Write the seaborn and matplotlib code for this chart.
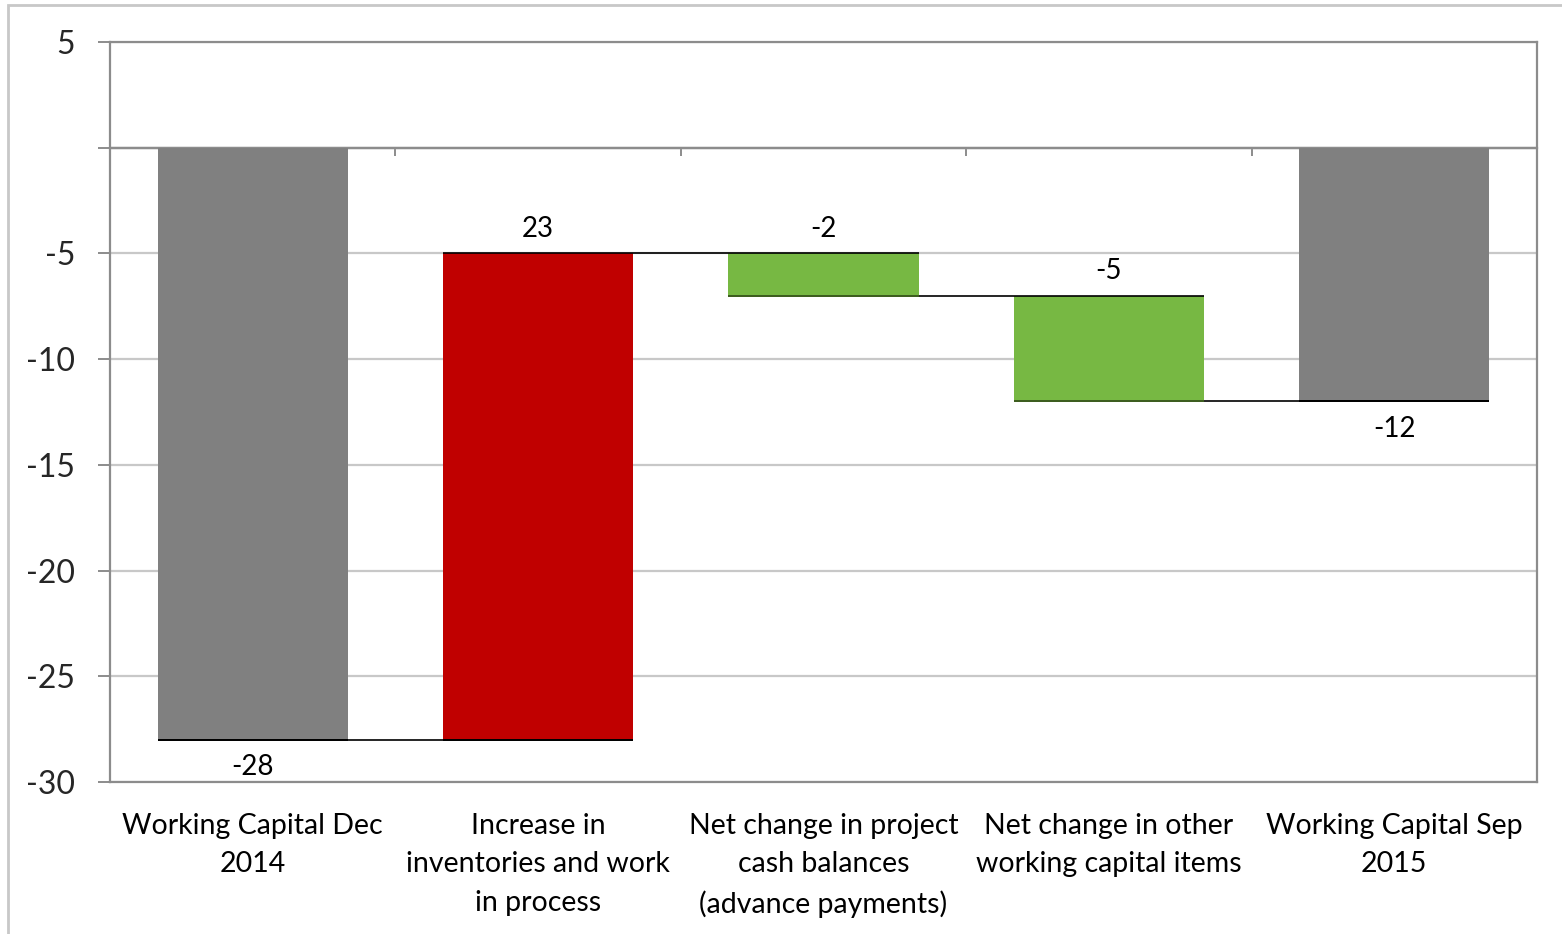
import matplotlib
matplotlib.use("Agg")
import matplotlib.pyplot as plt
import matplotlib.patches as mpatches
import seaborn as sns
import pandas as pd
import numpy as np

# ---- data ----
categories = [
    "Working Capital Dec\n2014",
    "Increase in\ninventories and work\nin process",
    "Net change in project\ncash balances\n(advance payments)",
    "Net change in other\nworking capital items",
    "Working Capital Sep\n2015",
]
bar_start = [0, -28, -5, -7, 0]
bar_end = [-28, -5, -7, -12, -12]
value_labels = ["-28", "23", "-2", "-5", "-12"]
label_side = ["below", "above", "above", "above", "below"]
bar_colors = ["#808080", "#C00000", "#77B843", "#77B843", "#808080"]
yticks = [5, 0, -5, -10, -15, -20, -25, -30]
ytick_labels = ["5", "", "-5", "-10", "-15", "-20", "-25", "-30"]

sns.set_style("white")
plt.rcParams["font.family"] = ["Lato", "DejaVu Sans"]

W, H = 1562, 934
fig = plt.figure(figsize=(W / 100, H / 100), dpi=100)
ax = fig.add_axes([110 / W, 1 - 782 / H, (1537 - 110) / W, (782 - 42) / H])

df = pd.DataFrame({
    "category": categories,
    "height": np.array(bar_end) - np.array(bar_start),
})
bw = 0.667
sns.barplot(data=df, x="category", y="height", bottom=bar_start, width=bw,
            color="#808080", ax=ax, linewidth=0)
for p, c in zip(ax.patches, bar_colors):
    p.set_facecolor(c)
    p.set_edgecolor(c)
    p.set_zorder(3)

ax.set_ylim(-30, 5)
ax.set_xlim(-0.5, len(categories) - 0.5)
ax.set_yticks(yticks)
ax.set_yticklabels(ytick_labels)
ax.set_xlabel("")
ax.set_ylabel("")

# grid
ax.yaxis.grid(True, color="#C8C8C8", linewidth=1.6, zorder=0)
ax.set_axisbelow(True)
for s in ax.spines.values():
    s.set_color("#8C8C8C")
    s.set_linewidth(1.6)
    s.set_visible(True)

ax.tick_params(axis="y", direction="out", length=9, width=1.4, color="#8C8C8C",
               labelsize=23, pad=16, left=True)
ax.tick_params(axis="x", length=0, labelsize=20.5, pad=22)
for t in ax.get_xticklabels():
    t.set_linespacing(1.6)
    t.set_color("#000000")

# zero axis line with boundary ticks
ax.axhline(0, color="#8C8C8C", linewidth=1.6, zorder=2)
try:
    sec = ax.secondary_xaxis(0, transform=ax.transData)
    sec.set_xticks(np.arange(len(categories) - 1) + 0.5)
    sec.set_xticklabels([])
    sec.tick_params(direction="out", length=6, width=1.4, color="#8C8C8C")
    sec.spines["bottom"].set_color("#8C8C8C")
    sec.spines["bottom"].set_linewidth(1.6)
except Exception:
    pass

# connector lines
for i in range(len(categories) - 1):
    ax.hlines(bar_end[i], i - bw / 2, i + 1 + bw / 2, color="#000000",
              linewidth=1.2, zorder=4)
# bottom edges of bars
for i in range(len(categories)):
    lo = min(bar_start[i], bar_end[i])
    ax.hlines(lo, i - bw / 2, i + bw / 2,
              color="#3F6020" if bar_colors[i] == "#77B843" else "#000000",
              linewidth=1.4, zorder=4)

# value labels
for i, (lab, side) in enumerate(zip(value_labels, label_side)):
    if side == "above":
        yv = max(bar_start[i], bar_end[i])
        off = 17.5
    else:
        yv = min(bar_start[i], bar_end[i])
        off = -20
    ax.annotate(lab, (i, yv), xytext=(0, off),
                textcoords="offset points", ha="center",
                va="center", fontsize=20, color="#000000")

# outer frame
fig.patches.append(mpatches.Rectangle((8 / W, -0.02), 1.05, (934 - 5) / H + 0.02,
                                      transform=fig.transFigure, fill=False,
                                      edgecolor="#C8C8C8", linewidth=2))

fig.savefig("out.png", dpi=100)
